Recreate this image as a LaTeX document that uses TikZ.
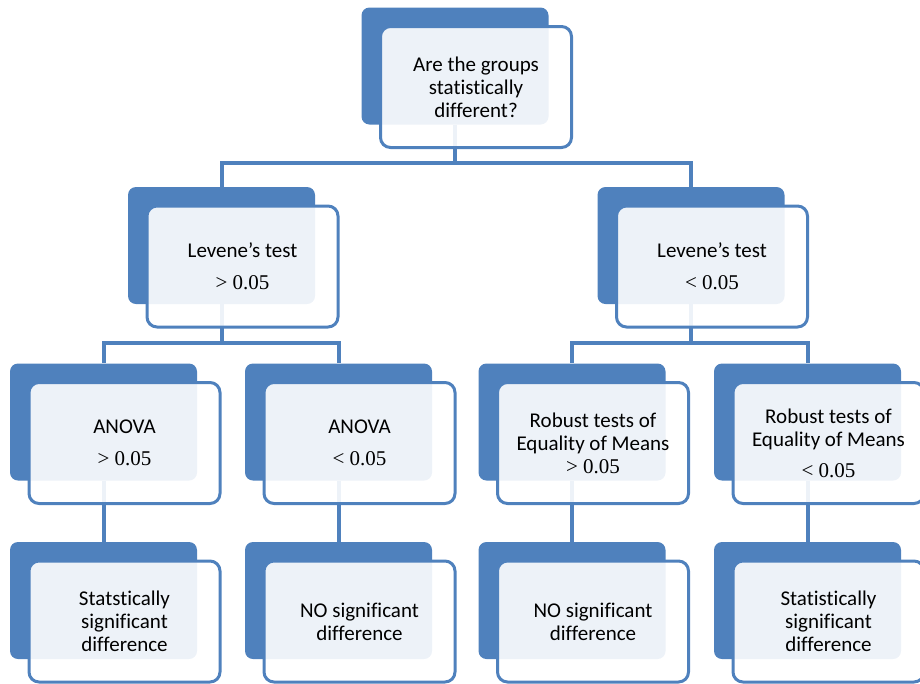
\documentclass[tikz,border=0pt]{standalone}
\usepackage{fontspec}
\setmainfont{Carlito}[Ligatures=NoCommon]
\newfontfamily\numfont{Liberation Serif}
\usetikzlibrary{positioning,backgrounds}
\definecolor{boxblue}{HTML}{4F81BD}
\newcommand{\pval}[1]{{\numfont #1}}

\begin{document}
\begin{tikzpicture}[
x=1pt, y=-1pt,
back/.style={fill=boxblue, rounded corners=8pt, minimum width=187pt, minimum height=117pt, inner sep=0pt},
front/.style={draw=boxblue, line width=3pt, fill=white, fill opacity=0.9, text opacity=1, rounded corners=10pt, minimum width=191pt, minimum height=121pt, inner sep=0pt, align=center, font=\fontsize{21}{23}\selectfont},
link/.style={draw=boxblue, line width=4pt}]
\useasboundingbox (0,0) rectangle (920,683);
% question
\node[back] (qb) at (455,66) {};
\node[front] (q) at ([shift={(21,21)}]qb.center) {Are the groups\\statistically\\different?};
% levene
\node[back] (lb) at (221.5,245.5) {};
\node[front] (l) at ([shift={(21,21)}]lb.center) {Levene’s test\\[9pt]\pval{> 0.05}};
\node[back] (rb) at (691,245.5) {};
\node[front] (r) at ([shift={(21,21)}]rb.center) {Levene’s test\\[9pt]\pval{< 0.05}};
% anova / robust
\node[back] (a1b) at (103.5,422) {};
\node[front] (a1) at ([shift={(21,21)}]a1b.center) {ANOVA\\[9pt]\pval{> 0.05}};
\node[back] (a2b) at (338.5,422) {};
\node[front] (a2) at ([shift={(21,21)}]a2b.center) {ANOVA\\[9pt]\pval{< 0.05}};
\node[back] (r1b) at (572,422) {};
\node[front] (r1) at ([shift={(21,21)}]r1b.center) {Robust tests of\\Equality of Means\\\pval{> 0.05}};
\node[back] (r2b) at (807.5,422) {};
\node[front] (r2) at ([shift={(21,21)}]r2b.center) {Robust tests of\\Equality of Means\\[8pt]\pval{< 0.05}};
% results
\node[back] (d1b) at (103.5,600.5) {};
\node[front] (d1) at ([shift={(21,21)}]d1b.center) {Statstically\\significant\\difference};
\node[back] (d2b) at (338.5,600.5) {};
\node[front] (d2) at ([shift={(21,21)}]d2b.center) {NO significant\\difference};
\node[back] (d3b) at (572,600.5) {};
\node[front] (d3) at ([shift={(21,21)}]d3b.center) {NO significant\\difference};
\node[back] (d4b) at (807.5,600.5) {};
\node[front] (d4) at ([shift={(21,21)}]d4b.center) {Statistically\\significant\\difference};
% links behind the boxes
\begin{pgfonlayer}{background}
\draw[link] (qb.south) -- ++(0,38) -| (lb.north);
\draw[link] (qb.south) -- ++(0,38) -| (rb.north);
\draw[link] (lb.south) -- ++(0,39) -| (a1b.north);
\draw[link] (lb.south) -- ++(0,39) -| (a2b.north);
\draw[link] (rb.south) -- ++(0,39) -| (r1b.north);
\draw[link] (rb.south) -- ++(0,39) -| (r2b.north);
\draw[link] (a1b.south) -- (d1b.north);
\draw[link] (a2b.south) -- (d2b.north);
\draw[link] (r1b.south) -- (d3b.north);
\draw[link] (r2b.south) -- (d4b.north);
\end{pgfonlayer}
\end{tikzpicture}
\end{document}
